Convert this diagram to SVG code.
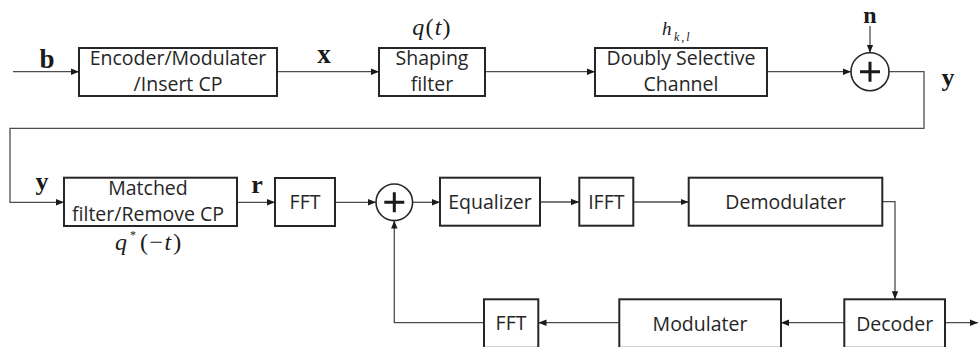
<svg xmlns="http://www.w3.org/2000/svg" width="978" height="347" viewBox="0 0 978 347">
  <style>
    .box { fill: #fff; stroke: #262626; stroke-width: 2; }
    .lbl { font-family: "Open Sans", "Liberation Sans", sans-serif; font-size: 19.5px; fill: #262626; text-anchor: middle; }
    .sym { font-family: "Liberation Serif", serif; font-weight: bold; fill: #1a1a1a; text-anchor: middle; }
    .math { font-family: "Liberation Serif", serif; font-style: italic; fill: #1a1a1a; }
    .up { font-style: normal; }
    .wire { fill: none; stroke: #4d4d4d; stroke-width: 1.3; }
    .sum { fill: #fff; stroke: #262626; stroke-width: 1.6; }
    .plus { stroke: #1a1a1a; stroke-width: 3; }
  </style>
  <defs>
    <marker id="arr" viewBox="0 0 8 8" refX="8" refY="4" markerWidth="8" markerHeight="8" markerUnits="userSpaceOnUse" orient="auto">
      <path d="M0,0.8 L8,4 L0,7.2 Z" fill="#1a1a1a"/>
    </marker>
  </defs>

  <rect width="978" height="347" fill="#fff"/>

  <!-- connectors -->
  <g id="connectors" class="wire">
    <path d="M13,71.7 H79" marker-end="url(#arr)"/>
    <path d="M277,71.7 H379" marker-end="url(#arr)"/>
    <path d="M485,71.7 H595" marker-end="url(#arr)"/>
    <path d="M767,71.7 H851" marker-end="url(#arr)"/>
    <path d="M870,26 V52.7" marker-end="url(#arr)"/>
    <path d="M889,71.7 H924 V128.3 H10 V202.3 H64" marker-end="url(#arr)"/>
    <path d="M237,202.3 H275" marker-end="url(#arr)"/>
    <path d="M335,202.3 H376" marker-end="url(#arr)"/>
    <path d="M412.6,202.3 H440" marker-end="url(#arr)"/>
    <path d="M540,202 H579" marker-end="url(#arr)"/>
    <path d="M633,202 H688.5" marker-end="url(#arr)"/>
    <path d="M882,201.7 H895 V299.3" marker-end="url(#arr)"/>
    <path d="M844,322.7 H781" marker-end="url(#arr)"/>
    <path d="M619,322.7 H538.5" marker-end="url(#arr)"/>
    <path d="M484,322.7 H394.3 V220.6" marker-end="url(#arr)"/>
    <path d="M945,322.7 H978" marker-end="url(#arr)"/>
  </g>

  <!-- signal symbols -->
  <g id="signals">
    <text class="sym" x="47" y="68" font-size="27">b</text>
    <text class="sym" x="324" y="62.5" font-size="27">x</text>
    <text class="sym" x="870" y="23.3" font-size="24">n</text>
    <text class="sym" x="948" y="86" font-size="26">y</text>
    <text class="sym" x="42" y="190" font-size="26">y</text>
    <text class="sym" x="257" y="193" font-size="26">r</text>
    <text class="math" x="432" y="35" font-size="24" letter-spacing="1.2" text-anchor="middle">q<tspan class="up">(</tspan>t<tspan class="up">)</tspan></text>
    <text class="math" x="662" y="35" font-size="19">h<tspan x="674" y="41" font-size="12" letter-spacing="2">k<tspan class="up">,</tspan>l</tspan></text>
    <text class="math" x="115" y="250" font-size="24">q<tspan x="130" y="239" font-size="12" class="up">*</tspan><tspan x="140" y="250" class="up" letter-spacing="1.5">(−</tspan><tspan>t</tspan><tspan class="up" dx="2">)</tspan></text>
  </g>

  <g id="encoder">
    <rect class="box" x="79" y="48" width="198" height="48"/>
    <text class="lbl" x="178" y="65">Encoder/Modulater</text>
    <text class="lbl" x="178" y="90.5">/Insert CP</text>
  </g>

  <g id="shaping">
    <rect class="box" x="379" y="48" width="106" height="48"/>
    <text class="lbl" x="432" y="65">Shaping</text>
    <text class="lbl" x="432" y="90.5">filter</text>
  </g>

  <g id="channel">
    <rect class="box" x="595" y="48" width="172" height="48"/>
    <text class="lbl" x="681" y="65">Doubly Selective</text>
    <text class="lbl" x="681" y="90.5">Channel</text>
  </g>

  <g id="noise-sum">
    <circle class="sum" cx="870" cy="71.7" r="19"/>
    <path class="plus" d="M860,71.7 H880 M870,61.7 V81.7"/>
  </g>

  <g id="matched">
    <rect class="box" x="64" y="177.7" width="173" height="48.3"/>
    <text class="lbl" x="148" y="195">Matched</text>
    <text class="lbl" x="148" y="221">filter/Remove CP</text>
  </g>

  <g id="fft-rx">
    <rect class="box" x="275" y="178" width="60" height="48"/>
    <text class="lbl" x="305" y="208.5">FFT</text>
  </g>

  <g id="feedback-sum">
    <circle class="sum" cx="394.3" cy="202.3" r="18.3"/>
    <path class="plus" d="M384.3,202.3 H404.3 M394.3,192.3 V212.3"/>
  </g>

  <g id="equalizer">
    <rect class="box" x="440" y="177.7" width="100" height="48"/>
    <text class="lbl" x="490" y="208.5">Equalizer</text>
  </g>

  <g id="ifft">
    <rect class="box" x="579.3" y="177.7" width="54" height="48"/>
    <text class="lbl" x="606.3" y="208.5">IFFT</text>
  </g>

  <g id="demodulater">
    <rect class="box" x="688.7" y="177.7" width="193.6" height="48"/>
    <text class="lbl" x="785.5" y="209">Demodulater</text>
  </g>

  <g id="decoder">
    <rect class="box" x="844.3" y="299.3" width="100.7" height="48.5"/>
    <text class="lbl" x="894.7" y="331">Decoder</text>
  </g>

  <g id="modulater">
    <rect class="box" x="619.3" y="299.3" width="161.7" height="48.5"/>
    <text class="lbl" x="700" y="331">Modulater</text>
  </g>

  <g id="fft-fb">
    <rect class="box" x="484" y="299.3" width="54.3" height="48.5"/>
    <text class="lbl" x="511" y="330">FFT</text>
  </g>
</svg>
